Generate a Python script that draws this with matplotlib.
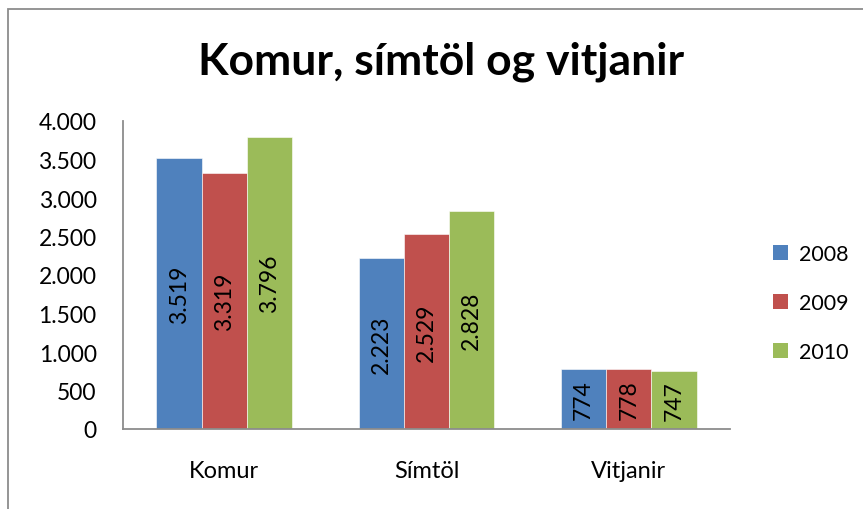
import matplotlib
matplotlib.use('Agg')
import matplotlib.pyplot as plt
from matplotlib.patches import Rectangle, Patch
import numpy as np

categories = ['Komur', 'Símtöl', 'Vitjanir']
years = ['2008', '2009', '2010']
values_2008 = [3519, 2223, 774]
values_2009 = [3319, 2529, 778]
values_2010 = [3796, 2828, 747]
yticks = [0, 500, 1000, 1500, 2000, 2500, 3000, 3500, 4000]

colors = ['#4F81BD', '#C0504D', '#9BBB59']

plt.rcParams['font.family'] = ['Lato', 'DejaVu Sans']


def fmt(v):
    # icelandic thousand separator
    return f'{v:,}'.replace(',', '.')


fig = plt.figure(figsize=(8.63, 5.1), dpi=100)
W, H = 863, 510

# chart area border (cut off at right and bottom)
fig.add_artist(Rectangle((8 / W, -0.1), 1.2, 1 - 10 / H + 0.1, transform=fig.transFigure,
                         fill=False, edgecolor='#8c8c8c', linewidth=1.3))

ax = fig.add_axes([123 / W, 1 - 430 / H, (730 - 123) / W, (430 - 122) / H])

x = np.arange(len(categories))
width = 0.223
series = [values_2008, values_2009, values_2010]
for i, vals in enumerate(series):
    pos = x + (i - 1) * width
    bars = ax.bar(pos, vals, width, color=colors[i], edgecolor='white', linewidth=0.4, label=years[i])
    for p, v in zip(pos, vals):
        ax.text(p, v / 2, fmt(v), rotation=90, ha='center', va='center', fontsize=16.5, color='black')

ax.set_xlim(-0.5, 2.5)
ax.set_ylim(0, 4000)
ax.set_yticks(yticks)
ax.set_yticklabels([fmt(t) for t in yticks])
ax.set_xticks(x)
ax.set_xticklabels(categories)
ax.tick_params(axis='y', length=0, pad=19, labelsize=16.5)
ax.tick_params(axis='x', length=0, pad=22, labelsize=17)

for s in ['top', 'right']:
    ax.spines[s].set_visible(False)
for s in ['left', 'bottom']:
    ax.spines[s].set_color('#8c8c8c')
    ax.spines[s].set_linewidth(1.3)

fig.text(441 / W, 1 - 62 / H, 'Komur, símtöl og vitjanir', ha='center', va='center',
         fontsize=32, fontweight='bold')

handles = [Patch(facecolor=c) for c in colors]
fig.legend(handles, years, loc='center left', bbox_to_anchor=(754 / W, 1 - 304 / H),
           frameon=False, fontsize=15.5, handlelength=0.7, handleheight=0.7,
           handletextpad=0.5, labelspacing=1.35)

plt.savefig('out.png', dpi=100)
